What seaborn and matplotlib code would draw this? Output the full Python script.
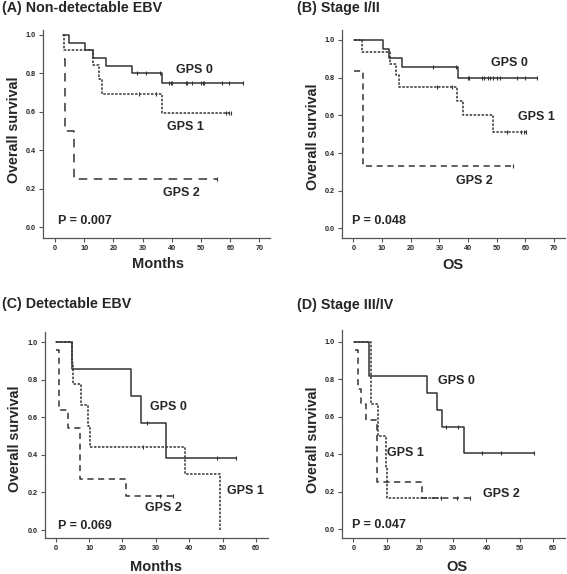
import matplotlib
matplotlib.use("Agg")
import matplotlib.pyplot as plt
import numpy as np
import pandas as pd
import seaborn as sns

# Kaplan-Meier curves: step start times, survival from that time, last follow-up, censor times

# (A) Non-detectable EBV
A_GPS0_TIME = [2.9, 4.9, 10.4, 13.1, 17.3, 26.4, 36.6]
A_GPS0_SURV = [1.0, 0.96, 0.92, 0.88, 0.84, 0.80, 0.75]
A_GPS0_END = 64.2
A_GPS0_CENS = [28.0, 31.2, 36.0, 39.0, 39.6, 40.2, 44.7, 45.2, 46.8, 49.9, 50.5, 51.0, 57.1, 59.7, 64.2]
A_GPS1_TIME = [2.9, 3.1, 13.1, 15.1, 16.0, 36.5]
A_GPS1_SURV = [1.0, 0.923, 0.846, 0.769, 0.692, 0.593]
A_GPS1_END = 60.2
A_GPS1_CENS = [28.9, 34.6, 58.6, 59.4, 60.2]
A_GPS2_TIME = [3.0, 3.6, 6.6]
A_GPS2_SURV = [0.875, 0.5, 0.25]
A_GPS2_END = 55.6
A_GPS2_CENS = [55.6]

# (B) Stage I/II
B_GPS0_TIME = [0.2, 10.2, 12.6, 17.1, 36.6]
B_GPS0_SURV = [1.0, 0.952, 0.905, 0.857, 0.80]
B_GPS0_END = 64.2
B_GPS0_CENS = [27.9, 35.8, 39.9, 40.5, 44.8, 45.6, 46.9, 47.6, 48.8, 50.0, 51.2, 57.2, 59.9, 64.2]
B_GPS1_TIME = [0.2, 3.0, 12.8, 14.9, 16.0, 36.1, 38.4, 48.8]
B_GPS1_SURV = [1.0, 0.9375, 0.875, 0.8125, 0.75, 0.675, 0.60, 0.514]
B_GPS1_END = 60.2
B_GPS1_CENS = [29.1, 34.3, 53.5, 58.5, 59.5, 60.2]
B_GPS2_TIME = [0.2, 3.5]
B_GPS2_SURV = [0.833, 0.333]
B_GPS2_END = 55.5
B_GPS2_CENS = [55.5]

# (C) Detectable EBV
C_GPS0_TIME = [0.2, 5.0, 22.5, 25.5, 33.2]
C_GPS0_SURV = [1.0, 0.857, 0.714, 0.571, 0.381]
C_GPS0_END = 54.0
C_GPS0_CENS = [27.5, 48.2, 54.0]
C_GPS1_TIME = [0.2, 5.0, 5.3, 7.5, 9.8, 10.3, 38.7, 49.2]
C_GPS1_SURV = [1.0, 0.889, 0.778, 0.667, 0.556, 0.444, 0.296, 0.0]
C_GPS1_END = 49.2
C_GPS1_CENS = [26.3]
C_GPS2_TIME = [0.2, 0.9, 3.8, 7.3, 21.1]
C_GPS2_SURV = [0.955, 0.636, 0.545, 0.273, 0.182]
C_GPS2_END = 35.2
C_GPS2_CENS = [31.2, 35.2]

# (D) Stage III/IV
D_GPS0_TIME = [0.2, 4.8, 22.2, 25.2, 26.5, 33.1]
D_GPS0_SURV = [1.0, 0.818, 0.727, 0.636, 0.545, 0.409]
D_GPS0_END = 54.2
D_GPS0_CENS = [27.7, 31.5, 38.7, 44.5, 54.2]
D_GPS1_TIME = [0.2, 5.3, 7.5, 9.7, 10.2]
D_GPS1_SURV = [1.0, 0.667, 0.5, 0.333, 0.167]
D_GPS1_END = 26.3
D_GPS1_CENS = [26.3]
D_GPS2_TIME = [0.4, 1.3, 2.2, 3.8, 7.1, 20.7]
D_GPS2_SURV = [0.958, 0.75, 0.667, 0.583, 0.25, 0.167]
D_GPS2_END = 35.2
D_GPS2_CENS = [31.2, 35.2]

P_VALUES = ["0.007", "0.048", "0.069", "0.047"]
TITLES = ["(A) Non-detectable EBV", "(B) Stage I/II", "(C) Detectable EBV", "(D) Stage III/IV"]
XLABELS = ["Months", "OS", "Months", "OS"]
Y_TICKS = [0.0, 0.2, 0.4, 0.6, 0.8, 1.0]

W, H = 567, 574
LINE = "#333333"
STYLES = {
    "GPS 0": "-",
    "GPS 1": (0, (1.6, 1.0)),
    "GPS 2": (0, (4.0, 3.0)),
}

sns.set_style("ticks")
plt.rcParams["font.family"] = ["Liberation Sans", "DejaVu Sans"]
plt.rcParams["font.weight"] = "bold"


def px_box(x0, y0, x1, y1):
    return [x0 / W, 1 - y1 / H, (x1 - x0) / W, (y1 - y0) / H]


def draw_curve(ax, time, surv, end, cens, style, dash_scale=1.0):
    xs = list(time)
    ys = list(surv)
    if end > xs[-1]:
        xs.append(end)
        ys.append(ys[-1])
    df = pd.DataFrame({"t": xs, "s": ys})
    if isinstance(style, tuple):
        style = (0, tuple(d * dash_scale for d in style[1]))
    sns.lineplot(data=df, x="t", y="s", ax=ax, color=LINE, lw=1.1,
                 linestyle=style, drawstyle="steps-post", estimator=None, sort=False)
    idx = np.searchsorted(np.asarray(time), np.asarray(cens), side="right") - 1
    cy = np.asarray(surv)[idx]
    sns.scatterplot(x=cens, y=cy, ax=ax, marker="|", s=9, color=LINE,
                    linewidth=0.8, zorder=3)


panels = [
    dict(box=(43, 30, 270, 238), xlim=(-4.1, 73.6), ylim=(-0.057, 1.026), xmax=70, dash=1.4,
         curves=[(A_GPS0_TIME, A_GPS0_SURV, A_GPS0_END, A_GPS0_CENS, "GPS 0"),
                 (A_GPS1_TIME, A_GPS1_SURV, A_GPS1_END, A_GPS1_CENS, "GPS 1"),
                 (A_GPS2_TIME, A_GPS2_SURV, A_GPS2_END, A_GPS2_CENS, "GPS 2")],
         labels=[(47.6, 0.818), (44.5, 0.522), (43.3, 0.179)], pval=(1.1, 0.033),
         title_xy=(2, 8), xlab_xy=(158, 264), ylab_xy=(14, 130)),
    dict(box=(341.7, 30, 565, 238.3), xlim=(-4.05, 73.8), ylim=(-0.052, 1.053), xmax=70, dash=1.0,
         curves=[(B_GPS0_TIME, B_GPS0_SURV, B_GPS0_END, B_GPS0_CENS, "GPS 0"),
                 (B_GPS1_TIME, B_GPS1_SURV, B_GPS1_END, B_GPS1_CENS, "GPS 1"),
                 (B_GPS2_TIME, B_GPS2_SURV, B_GPS2_END, B_GPS2_CENS, "GPS 2")],
         labels=[(54.3, 0.877), (64.0, 0.59), (42.2, 0.253)], pval=(-0.6, 0.042),
         title_xy=(296.7, 8), xlab_xy=(453, 265), ylab_xy=(313, 137)),
    dict(box=(45, 331.7, 268.3, 538.3), xlim=(-3.2, 63.7), ylim=(-0.044, 1.055), xmax=60, dash=1.0,
         curves=[(C_GPS0_TIME, C_GPS0_SURV, C_GPS0_END, C_GPS0_CENS, "GPS 0"),
                 (C_GPS1_TIME, C_GPS1_SURV, C_GPS1_END, C_GPS1_CENS, "GPS 1"),
                 (C_GPS2_TIME, C_GPS2_SURV, C_GPS2_END, C_GPS2_CENS, "GPS 2")],
         labels=[(33.9, 0.654), (56.9, 0.208), (32.3, 0.115)], pval=(0.8, 0.021),
         title_xy=(2, 304), xlab_xy=(156, 566.7), ylab_xy=(15, 439)),
    dict(box=(341.7, 330, 565, 538.3), xlim=(-3.5, 63.6), ylim=(-0.049, 1.064), xmax=60, dash=1.0,
         curves=[(D_GPS0_TIME, D_GPS0_SURV, D_GPS0_END, D_GPS0_CENS, "GPS 0"),
                 (D_GPS1_TIME, D_GPS1_SURV, D_GPS1_END, D_GPS1_CENS, "GPS 1"),
                 (D_GPS2_TIME, D_GPS2_SURV, D_GPS2_END, D_GPS2_CENS, "GPS 2")],
         labels=[(31.1, 0.789), (15.7, 0.408), (44.6, 0.186)], pval=(-0.5, 0.021),
         title_xy=(297.3, 305), xlab_xy=(457, 566.7), ylab_xy=(313, 440)),
]

fig = plt.figure(figsize=(W / 100, H / 100), dpi=100)

for i, p in enumerate(panels):
    ax = fig.add_axes(px_box(*p["box"]))
    for time, surv, end, cens, name in p["curves"]:
        scale = p["dash"] if name == "GPS 2" else 1.0
        draw_curve(ax, time, surv, end, cens, STYLES[name], scale)
    for (lx, ly), (_, _, _, _, name) in zip(p["labels"], p["curves"]):
        ax.text(lx, ly, name, ha="center", va="center", fontsize=9, fontweight="bold")
    ax.text(p["pval"][0], p["pval"][1], f"P = {P_VALUES[i]}", ha="left", va="center",
            fontsize=9, fontweight="bold")

    ax.set_xlim(*p["xlim"])
    ax.set_ylim(*p["ylim"])
    ax.set_xticks(np.arange(0, p["xmax"] + 1, 10))
    ax.set_yticks(Y_TICKS)
    ax.set_yticklabels([f"{v:.1f}" for v in Y_TICKS])
    ax.set_xlabel("")
    ax.set_ylabel("")
    ax.tick_params(labelsize=5.2, length=3, width=0.8, color="#555555", pad=2)
    for lab in ax.get_xticklabels() + ax.get_yticklabels():
        lab.set_fontweight("bold")
    sns.despine(ax=ax)
    for side in ("left", "bottom"):
        ax.spines[side].set_color("#555555")
        ax.spines[side].set_linewidth(0.9)

    tx, ty = p["title_xy"]
    fig.text(tx / W, 1 - ty / H, TITLES[i], ha="left", va="center", fontsize=10.3,
             fontweight="bold")
    xx, xy = p["xlab_xy"]
    fig.text(xx / W, 1 - xy / H, XLABELS[i], ha="center", va="center", fontsize=10.5,
             fontweight="bold")
    yx, yy = p["ylab_xy"]
    fig.text(yx / W, 1 - yy / H, "Overall survival", ha="center", va="center",
             rotation=90, fontsize=10.3, fontweight="bold")

fig.savefig("out.png", dpi=100)
